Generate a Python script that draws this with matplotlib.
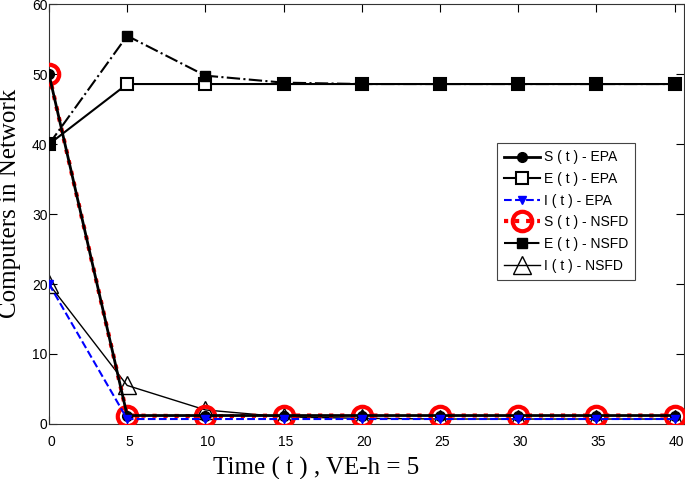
import numpy as np
import matplotlib
matplotlib.use('Agg')
import matplotlib.pyplot as plt
import matplotlib.transforms as mtransforms

# data
t = [0, 5, 10, 15, 20, 25, 30, 35, 40]
S_epa = [50, 1.2, 1.2, 1.2, 1.2, 1.2, 1.2, 1.2, 1.2]
E_epa = [40, 48.6, 48.6, 48.6, 48.6, 48.6, 48.6, 48.6, 48.6]
I_epa = [20, 0.7, 0.7, 0.7, 0.7, 0.7, 0.7, 0.7, 0.7]
S_nsfd = [50, 1.2, 1.1, 1.2, 1.2, 1.2, 1.2, 1.2, 1.2]
E_nsfd = [40, 55.5, 49.8, 48.8, 48.6, 48.6, 48.6, 48.6, 48.6]
I_nsfd = [20, 5.5, 2.0, 1.0, 0.8, 0.7, 0.7, 0.7, 0.7]

fig = plt.figure(figsize=(6.85, 4.79), dpi=100)
ax = fig.add_axes([0.0715, 0.115, 0.927, 0.876])

l1, = ax.plot(t, S_epa, '-', color='k', lw=2, marker='o', ms=7, mfc='k', zorder=5, label='S ( t ) - EPA')
l2, = ax.plot(t, E_epa, '-', color='k', lw=1.5, marker='s', ms=9, mfc='white', mew=1.5, zorder=4, label='E ( t ) - EPA')
l3, = ax.plot(t, I_epa, '--', color='blue', lw=1.5, marker='v', ms=6, mfc='blue', zorder=6, label='I ( t ) - EPA')
l4, = ax.plot(t, S_nsfd, ':', color='red', lw=3, marker='o', ms=14, mfc='none', mec='red', mew=3, zorder=3, label='S ( t ) - NSFD')
l5, = ax.plot(t, E_nsfd, '-.', color='k', lw=1.5, marker='s', ms=7, mfc='k', zorder=4, label='E ( t ) - NSFD')
l6, = ax.plot(t, I_nsfd, '-', color='k', lw=1, marker='^', ms=13, mfc='none', mew=1, zorder=2, label='I ( t ) - NSFD')

ax.set_xlim(0, 40.6)
ax.set_ylim(0, 60)
ax.set_xticks(range(0, 41, 5))
ax.set_yticks(range(0, 61, 10))
ax.tick_params(direction='in', top=True, right=True, labelsize=10, length=6)
ax.tick_params(axis='x', pad=8)
ax.tick_params(axis='y', pad=1)
shift = mtransforms.ScaledTranslation(2 / 100, 0, fig.dpi_scale_trans)
for lab in ax.get_xticklabels():
    lab.set_family('Liberation Sans')
    lab.set_transform(lab.get_transform() + shift)
for lab in ax.get_yticklabels():
    lab.set_family('Liberation Sans')
for s in ax.spines.values():
    s.set_color('#333333')

ax.text(0.42, -0.105, 'Time ( t ) , VE-h = 5', transform=ax.transAxes, family='Liberation Serif',
        fontsize=18, ha='center', va='center')
ax.text(-0.062, 0.526, 'Computers in Network', transform=ax.transAxes, family='Liberation Serif',
        fontsize=18, ha='center', va='center', rotation=90)

leg = ax.legend(loc='upper right', bbox_to_anchor=(0.934, 0.685), prop={'family': 'Liberation Sans', 'size': 10},
                fancybox=False, edgecolor='#444444', framealpha=1, handlelength=2.6, handletextpad=0.3,
                labelspacing=0.55, borderpad=0.5)
leg.get_frame().set_linewidth(0.8)

fig.savefig('out.png', dpi=100)
